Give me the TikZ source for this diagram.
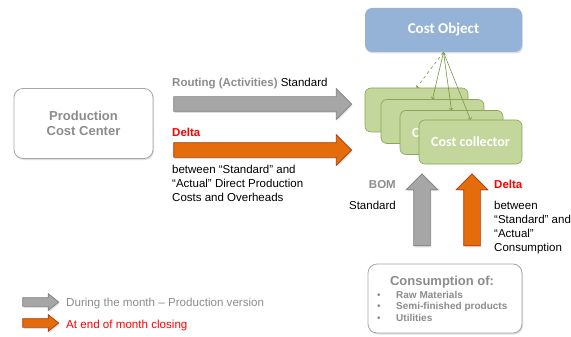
\documentclass[tikz,border=0pt]{standalone}
\usepackage{fontspec}
\setmainfont{Liberation Sans}
\newfontfamily\calfont{Carlito}
\usetikzlibrary{positioning,shadows,shapes.arrows}

\definecolor{txtgray}{HTML}{8C8C8C}
\definecolor{boxline}{HTML}{A6A6A6}
\definecolor{arrgray}{HTML}{A6A6A6}
\definecolor{arrgrayd}{HTML}{7F7F7F}
\definecolor{arrorange}{HTML}{E46C0A}
\definecolor{arrorangd}{HTML}{B03A0C}
\definecolor{objblue}{HTML}{95B3D7}
\definecolor{ccgreen}{HTML}{C3D69B}
\definecolor{ccgreend}{HTML}{8AA653}
\definecolor{lnkgreen}{HTML}{77933C}

\begin{document}
\begin{tikzpicture}[x=1pt,y=-1pt,
    shade/.style={drop shadow={opacity=0.25,shadow xshift=1pt,shadow yshift=-1.5pt}},
    box/.style={draw=boxline,fill=white,rounded corners=9pt,line width=0.8pt,shade},
    objbox/.style={draw=none,fill=objblue,rounded corners=7pt,shade,
        minimum width=157pt,minimum height=44pt,text=white,
        font=\calfont\bfseries\fontsize{15}{17}\selectfont},
    ccbox/.style={draw=ccgreend,fill=ccgreen,rounded corners=6pt,line width=0.6pt,
        minimum width=103pt,minimum height=44pt,text=white,
        font=\calfont\bfseries\fontsize{14}{16}\selectfont},
    blk/.style={single arrow,single arrow head extend=8pt,single arrow tip angle=90,
        inner sep=7pt,minimum height=178pt,line width=0.7pt,shade},
    blkup/.style={blk,shape border rotate=90,minimum height=72pt,inner sep=8pt,
        single arrow head extend=7.5pt},
    blksmall/.style={blk,inner sep=4pt,single arrow head extend=4pt,
        single arrow tip angle=77,minimum height=36pt},
    grayfill/.style={draw=arrgrayd,fill=arrgray},
    orangefill/.style={draw=arrorangd,fill=arrorange},
    txt/.style={inner sep=0pt,font=\fontsize{11.5}{14}\selectfont,align=left},
    hot/.style={txt,text=red,font=\bfseries\fontsize{11.5}{14}\selectfont}]

    \useasboundingbox (0,0) rectangle (571,337);

    % left side
    \node[box,minimum width=139pt,minimum height=70pt,text=txtgray,align=center,
          font=\bfseries\fontsize{13}{15}\selectfont] (pcc) at (83.5,123.5)
          {Production\\Cost Center};

    \node[blk,grayfill]   (rtarr) at (259,104) {};
    \node[blk,orangefill] (dlarr) at (259,150) {};

    \node[txt,anchor=base west] (rt) at (172,87)
          {\textcolor{txtgray}{\bfseries Routing (Activities)} Standard};
    \node[hot,anchor=base west] (dl) at (172,136) {Delta};
    % base of a multi-line node = last line
    \node[txt,anchor=base west] (dltxt) at (172,201)
          {between “Standard” and\\“Actual” Direct Production\\Costs and Overheads};

    % cost object and collectors
    \node[objbox] (obj) at (443.5,30) {Cost Object};
    \node[ccbox]  (cc1) at (416.5,110)   { };
    \node[ccbox]  (cc2) at (432.5,121.5) { };
    \node[ccbox]  (cc3) at (451.5,132.5) {Cost collector};
    \node[ccbox]  (cc4) at (470.5,142)   {Cost collector};

    \path[->,draw=lnkgreen,line width=0.6pt]
          (obj.south) edge [dashed] (cc1.north)
                      edge          (cc2.north)
                      edge          (cc3.north)
                      edge          (cc4.north);

    % consumption
    \node[blkup,grayfill]   (bomarr) at (422,214) {};
    \node[blkup,orangefill] (cdlarr) at (472,214) {};

    \node[txt,anchor=base east,text=txtgray,font=\bfseries\fontsize{11.5}{14}\selectfont]
          (bom) at (396,188) {BOM};
    \node[txt,anchor=base east] (bomtxt) at (396,209) {Standard};
    \node[hot,anchor=base west] (cdl) at (494,188) {Delta};
    \node[txt,anchor=base west] (cdltxt) at (494,251)
          {between\\“Standard” and\\“Actual”\\Consumption};

    \node[box,minimum width=154pt,minimum height=69pt] (cons) at (445,298.5) { };
    \node[inner sep=0pt,anchor=base,text=txtgray,font=\bfseries\fontsize{13}{15}\selectfont]
          (constit) at (442,285) {Consumption of:};
    \node[inner sep=0pt,anchor=base west,align=left,text=txtgray,
          font=\bfseries\fontsize{10}{11.5}\selectfont] (conslist) at (377,321)
          {\makebox[19pt][l]{\mdseries\textbullet}Raw Materials\\
           \makebox[19pt][l]{\mdseries\textbullet}Semi-finished products\\
           \makebox[19pt][l]{\mdseries\textbullet}Utilities};

    % legend
    \node[blksmall,grayfill]   (lgarr) at (38,302) {};
    \node[blksmall,orangefill] (loarr) at (38,323) {};
    \node[txt,anchor=base west,text=txtgray,font=\fontsize{11.6}{14}\selectfont]
          (lg) at (66,306) {During the month – Production version};
    \node[txt,anchor=base west,text=red,font=\fontsize{11.6}{14}\selectfont]
          (lo) at (66,328) {At end of month closing};
\end{tikzpicture}
\end{document}
